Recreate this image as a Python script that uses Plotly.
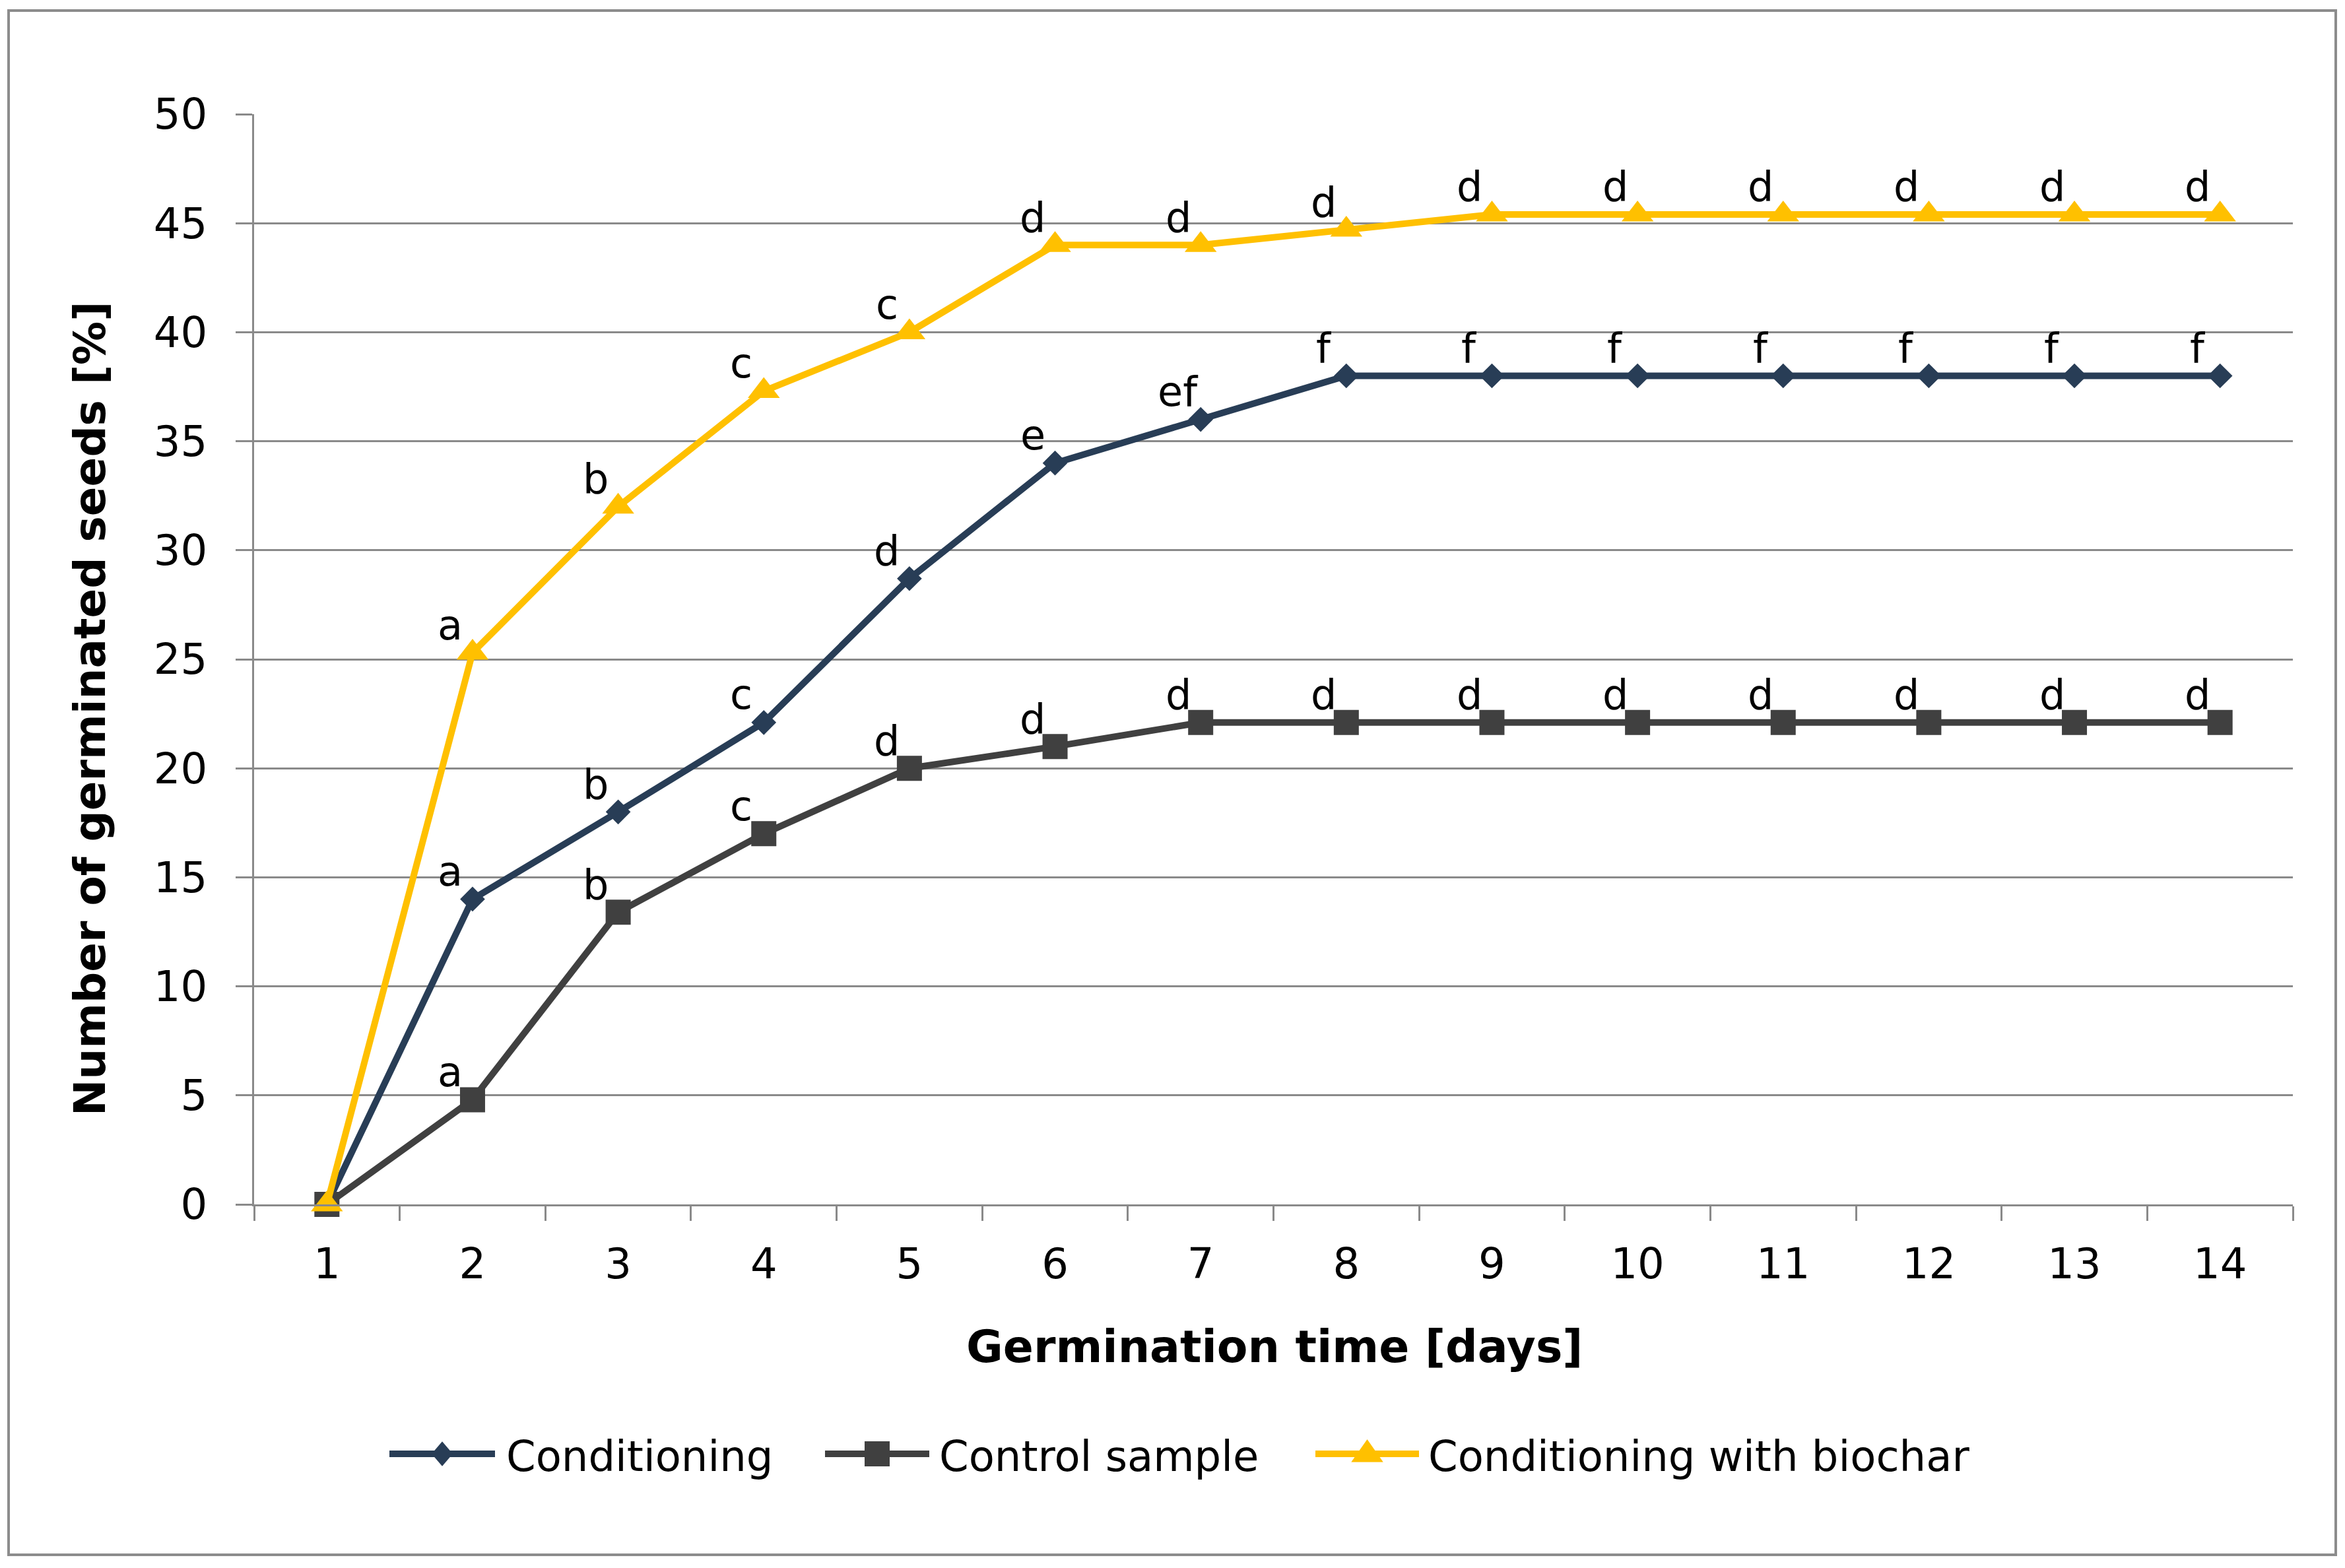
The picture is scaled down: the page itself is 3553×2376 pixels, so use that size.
import plotly.graph_objects as go

# ---------------- data ----------------
days = list(range(1, 15))
day_labels = [str(d) for d in days]

conditioning = [0, 14.0, 18.0, 22.1, 28.7, 34.0, 36.0, 38.0, 38.0, 38.0, 38.0, 38.0, 38.0, 38.0]
control = [0, 4.8, 13.4, 17.0, 20.0, 21.0, 22.1, 22.1, 22.1, 22.1, 22.1, 22.1, 22.1, 22.1]
biochar = [0, 25.3, 32.0, 37.3, 40.0, 44.0, 44.0, 44.7, 45.4, 45.4, 45.4, 45.4, 45.4, 45.4]

conditioning_letters = ["", "a", "b", "c", "d", "e", "ef", "f", "f", "f", "f", "f", "f", "f"]
control_letters = ["", "a", "b", "c", "d", "d", "d", "d", "d", "d", "d", "d", "d", "d"]
biochar_letters = ["", "a", "b", "c", "c", "d", "d", "d", "d", "d", "d", "d", "d", "d"]

series_names = ["Conditioning", "Control sample", "Conditioning with biochar"]
y_ticks = [0, 5, 10, 15, 20, 25, 30, 35, 40, 45, 50]

# ---------------- style ----------------
W, H = 3553, 2376
L, R, T, B = 385, 3474, 173, 1825  # plot area in pixels
FONT = "DejaVu Sans"
C_COND = "#283D56"
C_CTRL = "#404040"
C_BIO = "#FFC000"
GRID = "#8A8A8A"
LW = 10


def px(x, y):
    return (x - L) / (R - L), (B - y) / (B - T)


def glyph_path(points):
    parts = []
    for i, (x, y) in enumerate(points):
        u, v = px(x, y)
        parts.append(("M" if i == 0 else "L") + f"{u:.6f},{v:.6f}")
    return " ".join(parts) + " Z"


fig = go.Figure()

specs = [
    (series_names[0], conditioning, conditioning_letters, C_COND, "diamond", 29),
    (series_names[1], control, control_letters, C_CTRL, "square", 38),
    (series_names[2], biochar, biochar_letters, C_BIO, "triangle-up", 42),
]

for name, vals, letters, col, sym, size in specs:
    fig.add_trace(go.Scatter(
        x=days, y=vals, name=name, mode="lines+markers",
        line=dict(color=col, width=LW),
        marker=dict(symbol=sym, size=size, color=col, line=dict(width=0)),
        cliponaxis=False, showlegend=False,
    ))

annotations = []
for name, vals, letters, col, sym, size in specs:
    for d, v, t in zip(days, vals, letters):
        if t:
            annotations.append(dict(
                x=d, y=v, xref="x", yref="y", text=t, showarrow=False,
                xshift=-34, yshift=42, xanchor="center", yanchor="middle",
                font=dict(family=FONT, size=62, color="#000000"),
            ))

# axis titles
xt = px(1931, 2040)
annotations.append(dict(
    x=xt[0], y=xt[1], xref="paper", yref="paper", showarrow=False,
    text="<b>Germination time [days]</b>", xanchor="center", yanchor="middle",
    font=dict(family=FONT, size=68, color="#000000"),
))
yt = px(136, 1074)
annotations.append(dict(
    x=yt[0], y=yt[1], xref="paper", yref="paper", showarrow=False,
    text="<b>Number of germinated seeds [%]</b>", textangle=-90,
    xanchor="center", yanchor="middle",
    font=dict(family=FONT, size=66, color="#000000"),
))

# outer frame
b0 = px(13, 2356)
b1 = px(3539, 16)
shapes = [dict(type="rect", xref="paper", yref="paper",
               x0=b0[0], y0=b0[1], x1=b1[0], y1=b1[1],
               line=dict(color="#8C8C8C", width=4), layer="below")]

# custom legend (line sample, marker glyph, label)
LEG_Y = 2203
leg_line_x = [(590, 750), (1250, 1408), (1993, 2150)]
leg_text_x = [765, 1421, 2162]
for (x0, x1), tx, (name, vals, letters, col, sym, size) in zip(leg_line_x, leg_text_x, specs):
    p0 = px(x0, LEG_Y)
    p1 = px(x1, LEG_Y)
    shapes.append(dict(type="line", xref="paper", yref="paper",
                       x0=p0[0], y0=p0[1], x1=p1[0], y1=p1[1],
                       line=dict(color=col, width=LW)))
    cx, cy = (x0 + x1) / 2, LEG_Y
    if sym == "diamond":
        r = size * 1.3 / 2
        pts = [(cx, cy - r), (cx + r * 0.85, cy), (cx, cy + r), (cx - r * 0.85, cy)]
    elif sym == "square":
        r = size / 2
        pts = [(cx - r, cy - r), (cx + r, cy - r), (cx + r, cy + r), (cx - r, cy + r)]
    else:
        r = size / 2
        rt = r * 2 / 3 ** 0.5
        pts = [(cx - rt, cy + r * 0.6), (cx + rt, cy + r * 0.6), (cx, cy - r * 1.05)]
    shapes.append(dict(type="path", xref="paper", yref="paper",
                       path=glyph_path(pts), fillcolor=col,
                       line=dict(width=0)))
    pt = px(tx, LEG_Y + 4)
    annotations.append(dict(
        x=pt[0], y=pt[1], xref="paper", yref="paper", showarrow=False,
        text=name, xanchor="left", yanchor="middle",
        font=dict(family=FONT, size=64, color="#000000"),
    ))

fig.update_layout(
    width=W, height=H,
    margin=dict(l=L, r=W - R, t=T, b=H - B, pad=0),
    paper_bgcolor="white", plot_bgcolor="white",
    font=dict(family=FONT, size=64, color="#000000"),
    showlegend=False,
    annotations=annotations,
    shapes=shapes,
    xaxis=dict(
        range=[0.5, 14.5], tickmode="array", tickvals=days, ticktext=day_labels,
        ticks="", showgrid=False, zeroline=False,
        showline=True, linecolor=GRID, linewidth=3,
        tickfont=dict(family=FONT, size=64, color="#000000"),
        ticklabelstandoff=32,
        minor=dict(tick0=0.5, dtick=1, ticks="outside", ticklen=22,
                   tickcolor=GRID, tickwidth=3, showgrid=False),
    ),
    yaxis=dict(
        range=[0, 50], tickmode="array", tickvals=y_ticks,
        ticks="outside", ticklen=25, tickcolor=GRID, tickwidth=3,
        showgrid=True, gridcolor=GRID, gridwidth=3,
        zeroline=False, showline=True, linecolor=GRID, linewidth=3,
        tickfont=dict(family=FONT, size=64, color="#000000"),
        ticklabelstandoff=30,
    ),
)

fig.write_html("out.html", config={"displayModeBar": False},
               post_script="document.body.style.margin='0px';")
